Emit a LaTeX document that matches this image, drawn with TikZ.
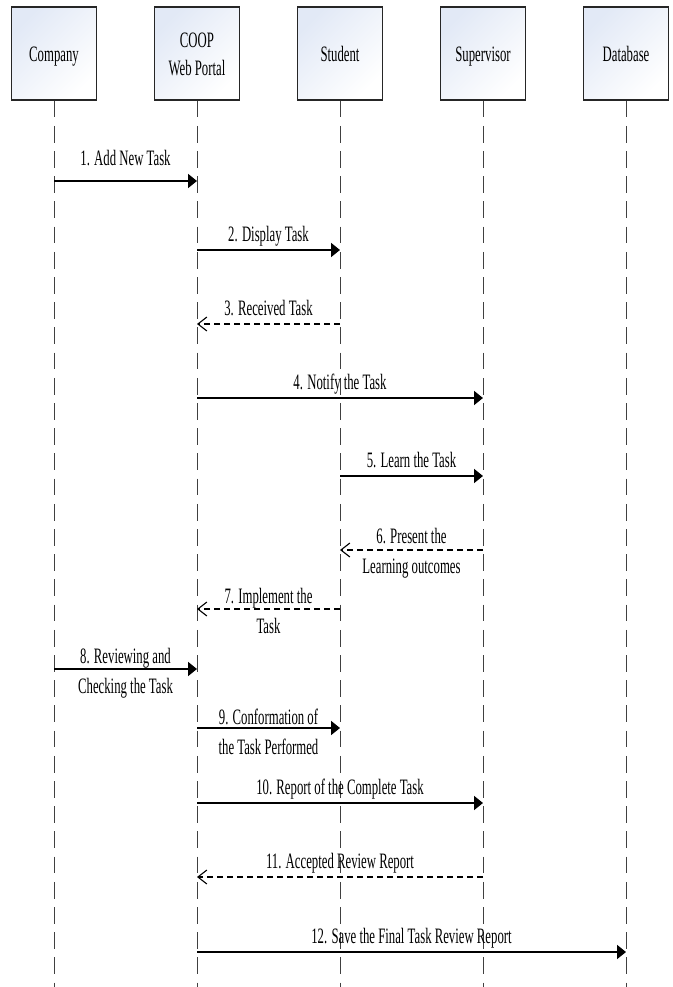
\documentclass[tikz,border=0pt]{standalone}
\usepackage{fontspec}
\setmainfont[FakeStretch=0.58]{Liberation Serif}
\usetikzlibrary{arrows.meta,positioning}
\definecolor{boxtop}{RGB}{226,233,246}
\tikzset{
  actor/.style={draw=black!85, line width=1.2pt, top color=boxtop, bottom color=white,
    shading angle=45, minimum width=85pt, minimum height=93pt, align=center,
    inner sep=0pt, text height=16pt, text depth=0pt,
    font=\fontsize{22}{28}\selectfont},
  lifeline/.style={draw=black!75, line width=0.9pt, dash pattern=on 16.8pt off 8.4pt},
  call/.style={line width=1.8pt, -{Triangle[length=9pt,width=14pt]}},
  reply/.style={line width=1.6pt, dash pattern=on 6.5pt off 3.5pt,
    -{Straight Barb[length=9pt,width=14pt,line width=1.1pt]}},
  lbl/.style={anchor=base, yshift=9pt, align=center, inner sep=0pt,
    font=\fontsize{22}{29.5}\selectfont},
  twoline/.style={yshift=-33pt},
}
\begin{document}
\begin{tikzpicture}[x=1pt, y=-1pt]
  \useasboundingbox (0,0) rectangle (672,987);
  % lifeline heads
  \node[actor] (company) at (54,53.5) {Company};
  \node[actor, right=56.8pt of company, text height=43.4pt] (portal) {COOP\\Web Portal};
  \node[actor, right=56.8pt of portal] (student) {Student};
  \node[actor, right=56.8pt of student] (supervisor) {Supervisor};
  \node[actor, right=56.8pt of supervisor] (database) {Database};
  % lifelines
  \coordinate (bottom) at (0,987);
  \foreach \who in {company,portal,student,supervisor,database}
    \draw[lifeline] (\who.south) -- (\who.south |- bottom);
  % message rows
  \foreach \row/\y in {1/181,2/250,3/324,4/398,5/476,6/550,7/609,8/669,9/728,10/803,11/877,12/952}
    \coordinate (m\row) at (0,\y);
  % messages
  \draw[call] (company |- m1) -- node[lbl, yshift=6pt] {1. Add New Task} (portal |- m1);
  \draw[call] (portal |- m2) -- node[lbl] {2. Display Task} (student |- m2);
  \draw[reply] (student |- m3) -- node[lbl] {3. Received Task} (portal |- m3);
  \draw[call] (portal |- m4) -- node[lbl] {4. Notify the Task} (supervisor |- m4);
  \draw[call] (student |- m5) -- node[lbl] {5. Learn the Task} (supervisor |- m5);
  \draw[reply] (supervisor |- m6) -- node[lbl, twoline, yshift=1pt] {6. Present the\\Learning outcomes} (student |- m6);
  \draw[reply] (student |- m7) -- node[lbl, twoline] {7. Implement the\\Task} (portal |- m7);
  \draw[call] (company |- m8) -- node[lbl, twoline] {8. Reviewing and\\Checking the Task} (portal |- m8);
  \draw[call] (portal |- m9) -- node[lbl, twoline, yshift=-2pt] {9. Conformation of\\the Task Performed} (student |- m9);
  \draw[call] (portal |- m10) -- node[lbl] {10. Report of the Complete Task} (supervisor |- m10);
  \draw[reply] (supervisor |- m11) -- node[lbl] {11. Accepted Review Report} (portal |- m11);
  \draw[call] (portal |- m12) -- node[lbl] {12. Save the Final Task Review Report} (database |- m12);
\end{tikzpicture}
\end{document}
